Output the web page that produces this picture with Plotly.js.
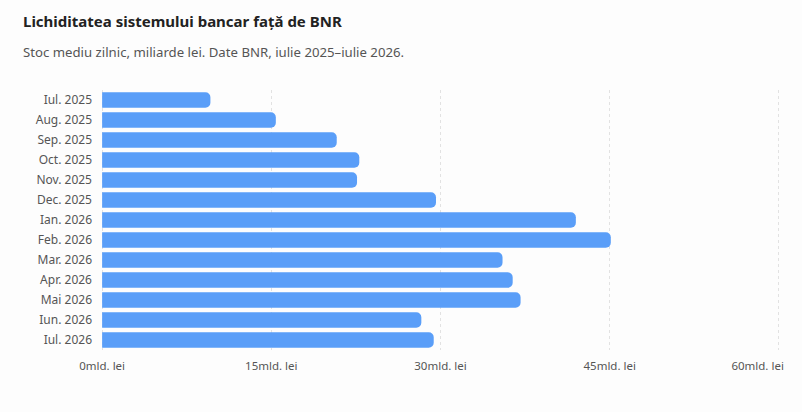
<!DOCTYPE html>
<html>
<head>
<meta charset="utf-8">
<script src="https://cdn.plot.ly/plotly-3.0.1.min.js"></script>
<style>
  html, body { margin: 0; padding: 0; background: #fdfdfd; }
  #chart { width: 802px; height: 412px; }
</style>
</head>
<body>
<div id="chart"></div>
<script>
// luni si lichiditate (mld. lei)
var months = ['Iul. 2025', 'Aug. 2025', 'Sep. 2025', 'Oct. 2025', 'Nov. 2025', 'Dec. 2025',
              'Ian. 2026', 'Feb. 2026', 'Mar. 2026', 'Apr. 2026', 'Mai 2026', 'Iun. 2026', 'Iul. 2026'];
var liquidity = [9.6, 15.4, 20.8, 22.8, 22.6, 29.6, 42.0, 45.1, 35.5, 36.4, 37.1, 28.3, 29.4];
var xTicks = [0, 15, 30, 45, 60];
var xTickText = xTicks.map(function (v) { return v + 'mld. lei'; });

// ultima eticheta (60) merge pe o axa suprapusa, aliniata la dreapta ca sa nu iasa din pagina
var lastTick = xTicks[xTicks.length - 1];
var lastText = xTickText[xTickText.length - 1];
var mainText = xTickText.slice(0, -1).concat(['']);

var font = '"Noto Sans", "Open Sans", sans-serif';

var trace = {
    type: 'bar',
    orientation: 'h',
    y: months,
    x: liquidity,
    marker: { color: '#5a9ef8', cornerradius: 5 },
    hoverinfo: 'x+y'
};

// urma goala doar ca axa x2 sa fie desenata
var dummy = {
    type: 'scatter',
    mode: 'none',
    x: [lastTick],
    y: [months[0]],
    xaxis: 'x2',
    hoverinfo: 'skip'
};

var layout = {
    width: 802,
    height: 412,
    paper_bgcolor: '#fdfdfd',
    plot_bgcolor: '#fdfdfd',
    margin: { l: 101, r: 22, t: 90, b: 62 },
    bargap: 0.23,
    showlegend: false,
    font: { family: font, size: 12, color: '#555' },
    title: {
        text: '<b>Lichiditatea sistemului bancar față de BNR</b>',
        font: { family: font, size: 15, color: '#222' },
        xref: 'container', x: 23 / 802, xanchor: 'left',
        yref: 'container', y: 1 - 22 / 412, yanchor: 'middle'
    },
    annotations: [{
        text: 'Stoc mediu zilnic, miliarde lei. Date BNR, iulie 2025–iulie 2026.',
        xref: 'paper', yref: 'paper',
        x: (21 - 101) / 679, y: 1 + (90 - 52) / 260,
        xanchor: 'left', yanchor: 'middle',
        showarrow: false,
        font: { family: font, size: 13.2, color: '#555' }
    }],
    xaxis: {
        range: [-0.1, 60.1],
        tickvals: xTicks,
        ticktext: mainText,
        tickfont: { size: 11.5 },
        ticklabelstandoff: 7,
        automargin: false,
        showgrid: true,
        gridcolor: '#e2e2e2',
        griddash: '3px,3px',
        zeroline: false,
        showline: false,
        fixedrange: true
    },
    xaxis2: {
        overlaying: 'x',
        side: 'bottom',
        anchor: 'y',
        range: [-0.1, 60.1],
        tickvals: [lastTick],
        ticktext: [lastText],
        tickfont: { size: 11.5 },
        ticklabelposition: 'outside left',
        ticklabelshift: 5,
        ticklabelstandoff: 7,
        automargin: false,
        showgrid: false,
        zeroline: false,
        showline: false,
        fixedrange: true
    },
    yaxis: {
        range: [months.length - 0.5, -0.5],
        automargin: false,
        showgrid: false,
        zeroline: false,
        showline: false,
        ticklabelstandoff: 8,
        fixedrange: true
    }
};

Plotly.newPlot('chart', [trace, dummy], layout, { displayModeBar: false });
</script>
</body>
</html>
